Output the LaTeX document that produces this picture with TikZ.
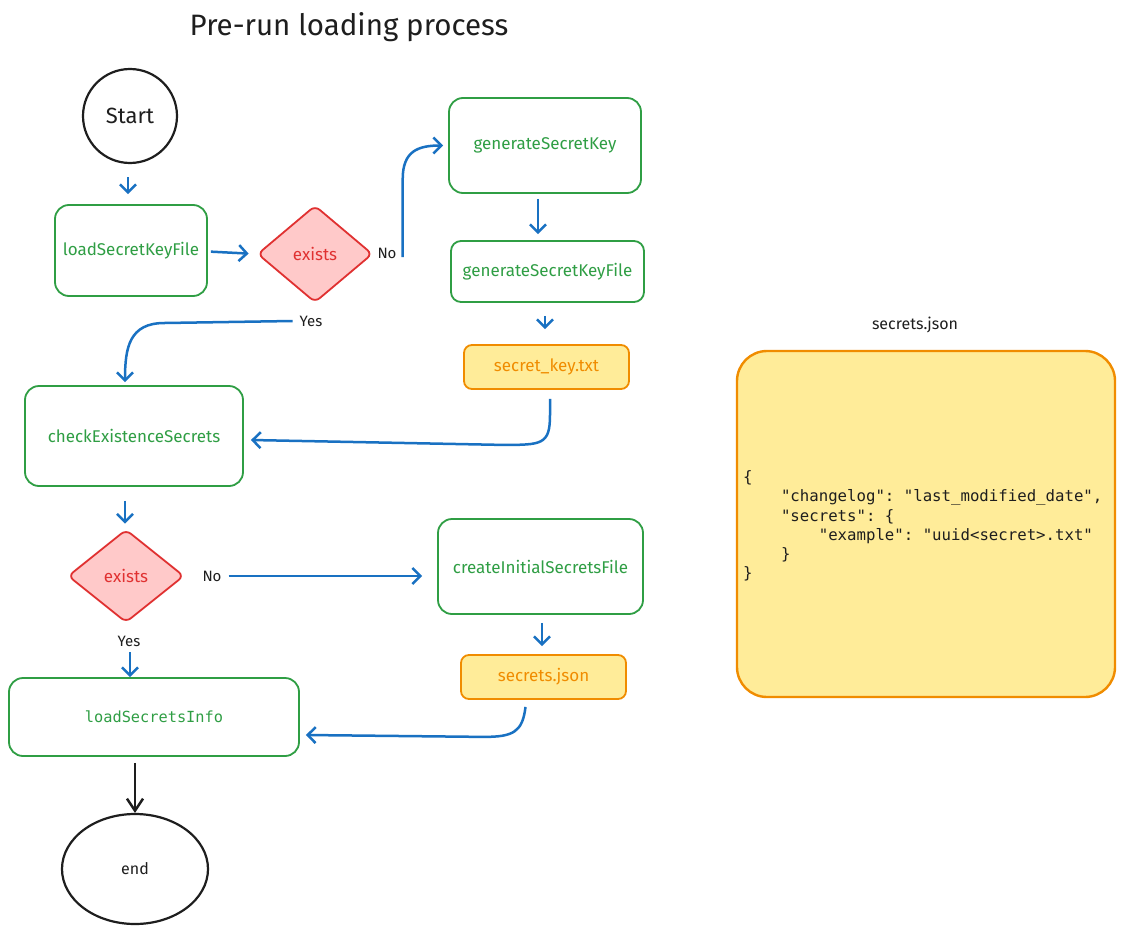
\documentclass[tikz,border=0pt]{standalone}
\usepackage{fontspec}
\setmainfont{Fira Sans}
\setmonofont{DejaVu Sans Mono}
\usetikzlibrary{arrows.meta,shapes.geometric}
\definecolor{cgreen}{HTML}{2F9E44}
\definecolor{cred}{HTML}{E03131}
\definecolor{cpink}{HTML}{FFC9C9}
\definecolor{corange}{HTML}{F08C00}
\definecolor{cyellow}{HTML}{FFEC99}
\definecolor{cblue}{HTML}{1971C2}
\definecolor{cblack}{HTML}{1E1E1E}
\begin{document}
\begin{tikzpicture}[x=1pt,y=-1pt,
  box/.style={draw=cgreen,line width=1.8pt,rounded corners=14pt,fill=white,text=cgreen,font=\fontsize{17}{20}\selectfont,inner sep=0pt},
  filebox/.style={draw=corange,fill=cyellow,line width=1.8pt,rounded corners=8pt,text=corange,font=\fontsize{17}{20}\selectfont,inner sep=0pt},
  dec/.style={diamond,draw=cred,fill=cpink,line width=1.8pt,rounded corners=6pt,text=cred,font=\fontsize{17}{20}\selectfont,inner sep=0pt},
  term/.style={draw=cblack,line width=2.2pt,fill=white,text=cblack,inner sep=0pt},
  arr/.style={draw=cblue,line width=2.5pt,-{Straight Barb[length=8pt,width=16pt]}},
  blkarr/.style={draw=cblack,line width=2.5pt,-{Straight Barb[length=12pt,width=16pt]}},
  lbl/.style={text=cblack,font=\fontsize{15}{18}\selectfont,inner sep=1pt},
]
\useasboundingbox (0,0) rectangle (1124,934);
\fill[white] (0,0) rectangle (1124,934);

\node[text=cblack,font=\fontsize{29.5}{34}\selectfont] (title) at (349,27) {Pre-run loading process};

% nodes
\node[term,circle,minimum size=94pt,font=\fontsize{22}{26}\selectfont] (start) at (130,116) {Start};
\node[box,minimum width=152pt,minimum height=91pt] (load) at (131,250.5) {loadSecretKeyFile};
\node[dec,minimum width=115pt,minimum height=97pt] (e1) at (315,254) {exists};
\node[lbl] (no1) at (387,253) {No};
\node[lbl] (yes1) at (311,321) {Yes};
\node[box,minimum width=192pt,minimum height=95pt] (genkey) at (545,145.5) {generateSecretKey};
\node[box,minimum width=193pt,minimum height=61pt,rounded corners=10pt] (genkeyfile) at (547.5,271.5) {generateSecretKeyFile};
\node[filebox,minimum width=165pt,minimum height=44pt] (skt) at (546.5,367) {secret\_key.txt};
\node[box,minimum width=218pt,minimum height=100pt] (check) at (134,436) {checkExistenceSecrets};
\node[dec,minimum width=116pt,minimum height=93pt] (e2) at (126,576) {exists};
\node[lbl] (no2) at (212,576) {No};
\node[lbl] (yes2) at (129,641) {Yes};
\node[box,minimum width=205pt,minimum height=95pt] (create) at (540.5,566.5) {createInitialSecretsFile};
\node[filebox,minimum width=165pt,minimum height=44pt] (sj) at (543.5,677) {secrets.json};
\node[box,minimum width=290pt,minimum height=78pt,font=\ttfamily\fontsize{15.3}{18}\selectfont] (loadinfo) at (154,717) {loadSecretsInfo};
\node[term,ellipse,minimum width=146pt,minimum height=110pt,font=\fontsize{16}{19}\selectfont] (end) at (135,869) {end};

\node[lbl,font=\fontsize{16}{19}\selectfont] (sjlabel) at (915,325) {secrets.json};
\node[draw=corange,fill=cyellow,line width=2.4pt,rounded corners=30pt,minimum width=378pt,minimum height=346pt] (big) at (926,524) {};
\node[anchor=west,align=left,text=cblack,inner sep=0pt,font=\ttfamily\fontsize{15.7}{19.2}\selectfont] (json) at (743,526) {%
\{\\
\phantom{xxxx}"changelog": "last\_modified\_date",\\
\phantom{xxxx}"secrets": \{\\
\phantom{xxxxxxxx}"example": "uuid<secret>.txt"\\
\phantom{xxxx}\}\\
\}};

% connectors
\draw[arr,shorten <=13pt,shorten >=10pt] ([xshift=-2pt]start.south) -- ([xshift=-3pt]load.north);
\draw[arr,shorten <=3pt,shorten >=8pt] ([yshift=-1pt]load.east) -- (e1.west);
\draw[arr] ([xshift=5pt,yshift=-4pt]no1.east) -- ++(0,-78) .. controls +(0,-28) and +(-25,0) .. ([xshift=-5pt]genkey.west);
\draw[arr] ([xshift=-6pt]yes1.west) -- ++(-128,2) .. controls +(-35,0) and +(0,-35) .. ([xshift=-9pt,yshift=3pt]check.north);
\draw[arr,shorten <=5pt,shorten >=6pt] ([xshift=-7pt]genkey.south) -- ([xshift=-9.5pt]genkeyfile.north);
\draw[arr,shorten <=13pt,shorten >=15pt] ([xshift=-2.5pt]genkeyfile.south) -- ([xshift=-1.5pt]skt.north);
\draw[arr] ([xshift=3.5pt,yshift=-9pt]skt.south) -- ++(0,16) .. controls +(0,30) and +(40,0) .. ++(-48,30) -- ([xshift=7pt,yshift=-4pt]check.east);
\draw[arr,shorten <=14pt,shorten >=5pt] ([xshift=-9pt]check.south) -- ([xshift=-1pt]e2.north);
\draw[arr,shorten <=6pt,shorten >=15pt] (no2.east) -- (no2.east -| create.west);
\draw[arr,shorten <=5pt,shorten >=0pt] ([xshift=1pt]yes2.south) -- ([xshift=1pt]yes2.south |- loadinfo.north);
\draw[arr,shorten <=8pt,shorten >=8pt] ([xshift=1.5pt]create.south) -- ([xshift=-1.5pt]sj.north);
\draw[arr] ([xshift=-18pt,yshift=-7pt]sj.south) .. controls +(-3,25) and +(30,0) .. ++(-42,30) -- ([xshift=6pt,yshift=-18pt]loadinfo.east);
\draw[blkarr,shorten <=6pt] (end.north |- loadinfo.south) -- (end.north);
\end{tikzpicture}
\end{document}
